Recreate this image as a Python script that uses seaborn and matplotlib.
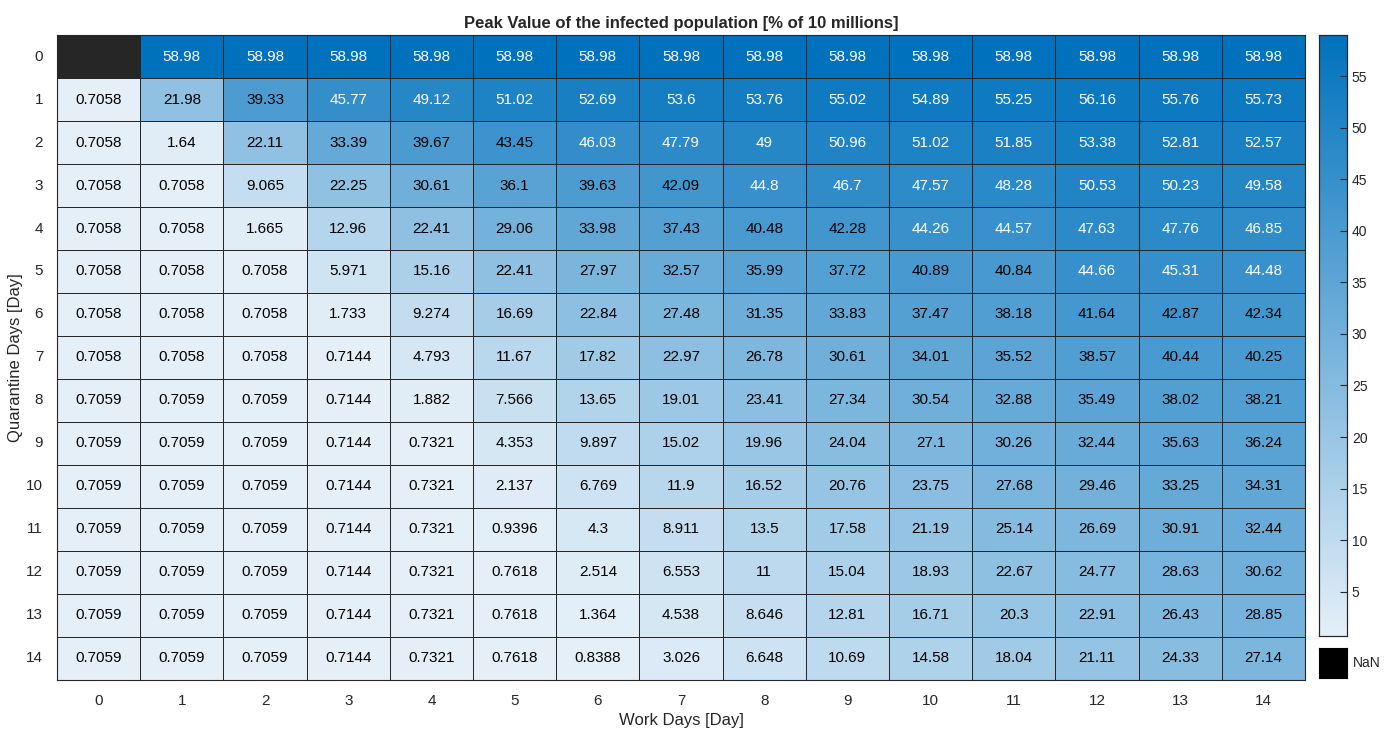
import numpy as np
import pandas as pd
import matplotlib
matplotlib.use('Agg')
import matplotlib.pyplot as plt
import seaborn as sns
from matplotlib.colors import LinearSegmentedColormap

# Quarantine days (rows) x Work days (columns)
quarantine_days = list(range(15))
work_days = list(range(15))

row_0 = [np.nan] + [58.98] * 14
row_1 = [0.7058, 21.98, 39.33, 45.77, 49.12, 51.02, 52.69, 53.6, 53.76, 55.02, 54.89, 55.25, 56.16, 55.76, 55.73]
row_2 = [0.7058, 1.64, 22.11, 33.39, 39.67, 43.45, 46.03, 47.79, 49, 50.96, 51.02, 51.85, 53.38, 52.81, 52.57]
row_3 = [0.7058, 0.7058, 9.065, 22.25, 30.61, 36.1, 39.63, 42.09, 44.8, 46.7, 47.57, 48.28, 50.53, 50.23, 49.58]
row_4 = [0.7058, 0.7058, 1.665, 12.96, 22.41, 29.06, 33.98, 37.43, 40.48, 42.28, 44.26, 44.57, 47.63, 47.76, 46.85]
row_5 = [0.7058, 0.7058, 0.7058, 5.971, 15.16, 22.41, 27.97, 32.57, 35.99, 37.72, 40.89, 40.84, 44.66, 45.31, 44.48]
row_6 = [0.7058, 0.7058, 0.7058, 1.733, 9.274, 16.69, 22.84, 27.48, 31.35, 33.83, 37.47, 38.18, 41.64, 42.87, 42.34]
row_7 = [0.7058, 0.7058, 0.7058, 0.7144, 4.793, 11.67, 17.82, 22.97, 26.78, 30.61, 34.01, 35.52, 38.57, 40.44, 40.25]
row_8 = [0.7059, 0.7059, 0.7059, 0.7144, 1.882, 7.566, 13.65, 19.01, 23.41, 27.34, 30.54, 32.88, 35.49, 38.02, 38.21]
row_9 = [0.7059, 0.7059, 0.7059, 0.7144, 0.7321, 4.353, 9.897, 15.02, 19.96, 24.04, 27.1, 30.26, 32.44, 35.63, 36.24]
row_10 = [0.7059, 0.7059, 0.7059, 0.7144, 0.7321, 2.137, 6.769, 11.9, 16.52, 20.76, 23.75, 27.68, 29.46, 33.25, 34.31]
row_11 = [0.7059, 0.7059, 0.7059, 0.7144, 0.7321, 0.9396, 4.3, 8.911, 13.5, 17.58, 21.19, 25.14, 26.69, 30.91, 32.44]
row_12 = [0.7059, 0.7059, 0.7059, 0.7144, 0.7321, 0.7618, 2.514, 6.553, 11, 15.04, 18.93, 22.67, 24.77, 28.63, 30.62]
row_13 = [0.7059, 0.7059, 0.7059, 0.7144, 0.7321, 0.7618, 1.364, 4.538, 8.646, 12.81, 16.71, 20.3, 22.91, 26.43, 28.85]
row_14 = [0.7059, 0.7059, 0.7059, 0.7144, 0.7321, 0.7618, 0.8388, 3.026, 6.648, 10.69, 14.58, 18.04, 21.11, 24.33, 27.14]

rows = [row_0, row_1, row_2, row_3, row_4, row_5, row_6, row_7,
        row_8, row_9, row_10, row_11, row_12, row_13, row_14]
peak = pd.DataFrame(rows, index=quarantine_days, columns=work_days)

labels = peak.map(lambda v: '' if np.isnan(v) else f'{v:.4g}')

plt.rcParams['font.family'] = ['Liberation Sans', 'DejaVu Sans']
cmap = LinearSegmentedColormap.from_list('mblue', ['#E4EFF8', '#0072BD'])
cmap.set_bad('#262626')

fig = plt.figure(figsize=(13.92, 7.31), dpi=100)
ax = fig.add_axes([0.041, 0.070, 0.8965, 0.882])
cax = fig.add_axes([0.9476, 0.130, 0.0201, 0.822])

vmin, vmax = np.nanmin(peak.values), np.nanmax(peak.values)
sns.heatmap(peak, ax=ax, cbar_ax=cax, cmap=cmap, vmin=vmin, vmax=vmax,
            annot=labels, fmt='', linewidths=0.6, linecolor='#262626',
            annot_kws={'fontsize': 11})

# text colour like MATLAB: white on dark cells
for t in ax.texts:
    s = t.get_text()
    if s:
        t.set_color('white' if float(s) > 44 else 'black')

for side in ['top', 'bottom', 'left', 'right']:
    ax.spines[side].set_visible(True)
    ax.spines[side].set_color('#262626')
    ax.spines[side].set_linewidth(0.8)
ax.tick_params(length=0, labelsize=11, colors='#262626', pad=10)
ax.set_yticklabels(quarantine_days, rotation=0)
ax.set_xticklabels(work_days, rotation=0)
ax.set_xlabel('Work Days [Day]', fontsize=12, color='#262626', labelpad=4)
ax.set_ylabel('Quarantine Days [Day]', fontsize=12, color='#262626', labelpad=2)
ax.set_title('Peak Value of the infected population [% of 10 millions]',
             fontsize=12, fontweight='bold', color='#262626', pad=5)

cax.set_yticks([5, 10, 15, 20, 25, 30, 35, 40, 45, 50, 55])
cax.tick_params(labelsize=10, colors='#262626', direction='in', length=5)
cax.yaxis.set_ticks_position('right')
for s in cax.spines.values():
    s.set_visible(True)
    s.set_color('#262626')
    s.set_linewidth(0.8)

# NaN legend box
nax = fig.add_axes([0.9476, 0.0725, 0.0201, 0.041])
nax.set_facecolor('black')
nax.set_xticks([])
nax.set_yticks([])
fig.text(0.972, 0.093, 'NaN', fontsize=10, color='#262626', va='center')

fig.savefig('out.png', dpi=100)
